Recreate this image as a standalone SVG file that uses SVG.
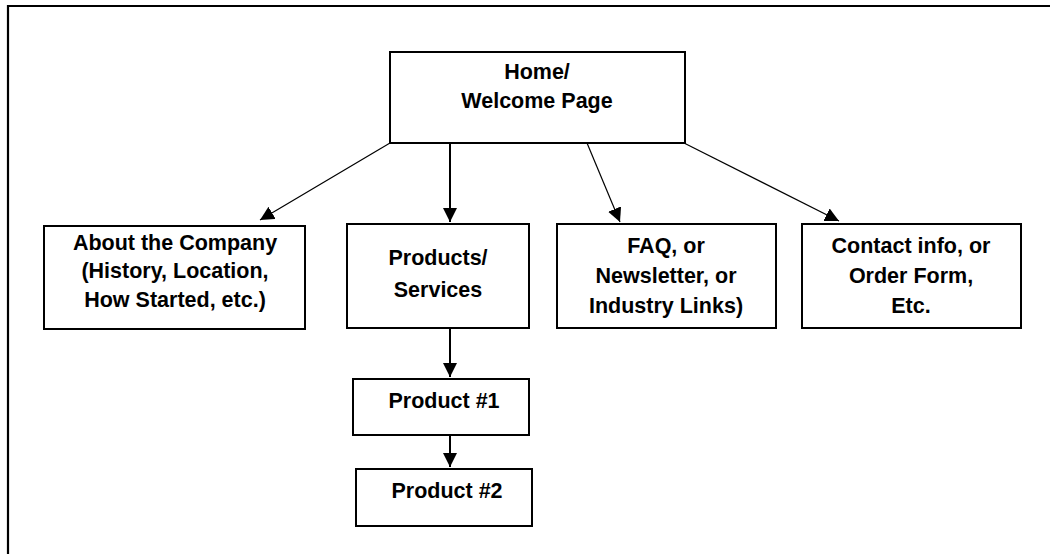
<svg xmlns="http://www.w3.org/2000/svg" width="1050" height="554" viewBox="0 0 1050 554">
<style>
.box{fill:#fff;stroke:#000;stroke-width:2}
.t{font-family:"Liberation Sans",Arial,sans-serif;font-weight:bold;font-size:21.5px;text-anchor:middle;fill:#000}
.c{stroke:#000;fill:none}
.frame{stroke:#000;stroke-width:2.2;fill:none}
</style>
<defs>
<marker id="ah" markerUnits="userSpaceOnUse" markerWidth="16" markerHeight="16" refX="14" refY="7" orient="auto">
<path d="M0,0 L14,7 L0,14 z" fill="#000"/>
</marker>
</defs>
<rect width="1050" height="554" fill="#fff"/>
<path class="frame" d="M8,554 L8,6 L1050,6"/>
<g id="connectors">
<line class="c" stroke-width="2" x1="450" y1="143" x2="450" y2="222" marker-end="url(#ah)"/>
<line class="c" stroke-width="1.2" x1="390" y1="143" x2="260" y2="220" marker-end="url(#ah)"/>
<line class="c" stroke-width="1.2" x1="587" y1="143" x2="620" y2="222" marker-end="url(#ah)"/>
<line class="c" stroke-width="1.2" x1="684" y1="143" x2="839" y2="221" marker-end="url(#ah)"/>
<line class="c" stroke-width="2" x1="450" y1="328" x2="450" y2="377" marker-end="url(#ah)"/>
<line class="c" stroke-width="2" x1="450" y1="435" x2="450" y2="467" marker-end="url(#ah)"/>
</g>
<g id="home">
<rect class="box" x="390" y="52" width="295" height="91"/>
<text class="t" x="537" y="79">Home/</text>
<text class="t" x="537" y="108">Welcome Page</text>
</g>
<g id="about">
<rect class="box" x="44" y="226" width="261" height="103"/>
<text class="t" x="175" y="250">About the Company</text>
<text class="t" x="175" y="278">(History, Location,</text>
<text class="t" x="175" y="307">How Started, etc.)</text>
</g>
<g id="products">
<rect class="box" x="347" y="224" width="182" height="104"/>
<text class="t" x="438" y="265">Products/</text>
<text class="t" x="438" y="297">Services</text>
</g>
<g id="faq">
<rect class="box" x="557" y="224" width="219" height="104"/>
<text class="t" x="666" y="253">FAQ, or</text>
<text class="t" x="666" y="283">Newsletter, or</text>
<text class="t" x="666" y="313">Industry Links)</text>
</g>
<g id="contact">
<rect class="box" x="802" y="224" width="219" height="104"/>
<text class="t" x="911" y="253">Contact info, or</text>
<text class="t" x="911" y="283">Order Form,</text>
<text class="t" x="911" y="313">Etc.</text>
</g>
<g id="product1">
<rect class="box" x="353" y="379" width="176" height="56"/>
<text class="t" x="444" y="408">Product #1</text>
</g>
<g id="product2">
<rect class="box" x="356" y="469" width="176" height="57"/>
<text class="t" x="447" y="498">Product #2</text>
</g>
</svg>
